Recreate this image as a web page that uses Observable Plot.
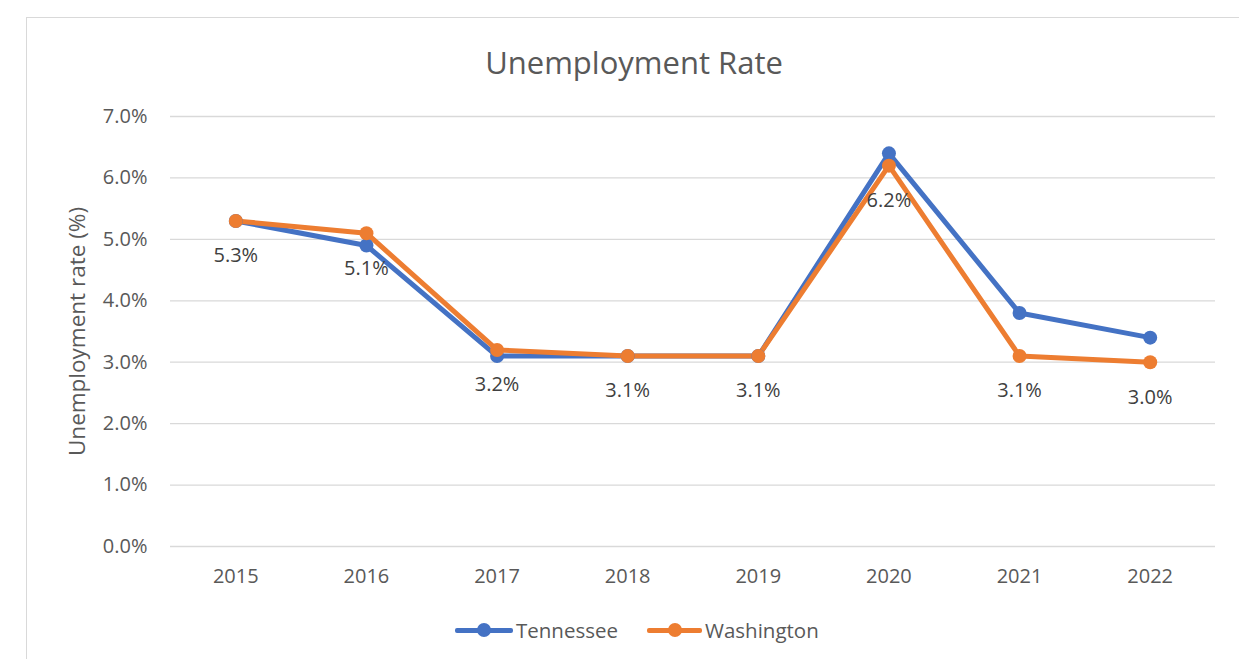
<!DOCTYPE html>
<html>
<head>
<meta charset="utf-8">
<script src="https://cdn.jsdelivr.net/npm/d3@7"></script>
<script src="https://cdn.jsdelivr.net/npm/@observablehq/plot@0.6"></script>
<style>
  html, body { margin: 0; padding: 0; background: #fff; overflow: hidden; width: 1239px; height: 659px; }
  #wrap { position: relative; width: 1239px; height: 659px; font-family: "Open Sans", Lato, sans-serif; }
  #frame { position: absolute; left: 26px; top: 17px; width: 1300px; height: 700px; border-left: 1.5px solid #d9d9d9; border-top: 1.5px solid #d9d9d9; }
  #title { position: absolute; left: 0; width: 1268px; top: 40px; text-align: center; font-size: 31px; line-height: 44px; color: #595959; }
  #chart { position: absolute; left: 0; top: 0; }
  #legend { position: absolute; top: 618px; left: 0; width: 1239px; height: 24px; }
  .lg { position: absolute; top: 0; font-size: 20.5px; color: #595959; line-height: 24px; }
  .sw { position: absolute; top: 9.5px; height: 5px; border-radius: 2px; }
  .mk { position: absolute; top: 5px; width: 14px; height: 14px; border-radius: 7px; }
</style>
</head>
<body>
<div id="wrap">
  <div id="frame"></div>
  <div id="chart"></div>
  <div id="title">Unemployment Rate</div>
  <div id="legend"></div>
</div>
<script>
const years = ["2015", "2016", "2017", "2018", "2019", "2020", "2021", "2022"];
const tennessee = [5.3, 4.9, 3.1, 3.1, 3.1, 6.4, 3.8, 3.4];
const washington = [5.3, 5.1, 3.2, 3.1, 3.1, 6.2, 3.1, 3.0];
const seriesNames = ["Tennessee", "Washington"];
const seriesColors = ["#4472C4", "#ED7D31"];
const yTicks = [0, 1, 2, 3, 4, 5, 6, 7];
const yTitle = "Unemployment rate (%)";

const rows = [];
years.forEach((yr, i) => rows.push({year: yr, value: tennessee[i], series: seriesNames[0]}));
years.forEach((yr, i) => rows.push({year: yr, value: washington[i], series: seriesNames[1]}));
const washRows = rows.filter(d => d.series === "Washington");
const fmt = d => d.toFixed(1) + "%";
const font = "'Open Sans', Lato, sans-serif";

const chart = Plot.plot({
  width: 1239,
  height: 659,
  marginLeft: 170,
  marginRight: 24,
  marginTop: 116,
  marginBottom: 113,
  style: {fontFamily: font, fontSize: "20px", color: "#595959", background: "transparent"},
  x: {type: "point", domain: years, padding: 0.5, round: false, label: null},
  y: {domain: [0, 7], label: null},
  color: {domain: seriesNames, range: seriesColors},
  marks: [
    Plot.gridY(yTicks, {stroke: "#d9d9d9", strokeOpacity: 1, strokeWidth: 1.3}),
    Plot.axisY(yTicks, {tickSize: 0, tickPadding: 23, tickFormat: fmt, fontSize: 20, fill: "#595959", label: null}),
    Plot.axisX({tickSize: 0, tickPadding: 22, fontSize: 20, fill: "#595959", label: null}),
    Plot.text([yTitle], {frameAnchor: "left", dx: -93, rotate: -90, textAnchor: "middle", fontSize: 22.5, fill: "#595959"}),
    Plot.line(rows, {x: "year", y: "value", z: "series", stroke: "series", strokeWidth: 5, strokeLinejoin: "round", strokeLinecap: "round"}),
    Plot.dot(rows, {x: "year", y: "value", fill: "series", r: 7, stroke: null}),
    Plot.text(washRows, {x: "year", y: "value", text: d => fmt(d.value), dy: 35, fontSize: 20, fill: "#404040"})
  ]
});
document.getElementById("chart").appendChild(chart);

const legendItems = [
  {name: seriesNames[0], color: seriesColors[0], x0: 455, x1: 513, tx: 516},
  {name: seriesNames[1], color: seriesColors[1], x0: 647, x1: 702, tx: 705}
];
const lg = document.getElementById("legend");
legendItems.forEach(it => {
  const sw = document.createElement("div");
  sw.className = "sw";
  sw.style.left = it.x0 + "px";
  sw.style.width = (it.x1 - it.x0) + "px";
  sw.style.background = it.color;
  lg.appendChild(sw);
  const mk = document.createElement("div");
  mk.className = "mk";
  mk.style.left = ((it.x0 + it.x1) / 2 - 7) + "px";
  mk.style.background = it.color;
  lg.appendChild(mk);
  const t = document.createElement("div");
  t.className = "lg";
  t.style.left = it.tx + "px";
  t.textContent = it.name;
  lg.appendChild(t);
});
</script>
</body>
</html>
